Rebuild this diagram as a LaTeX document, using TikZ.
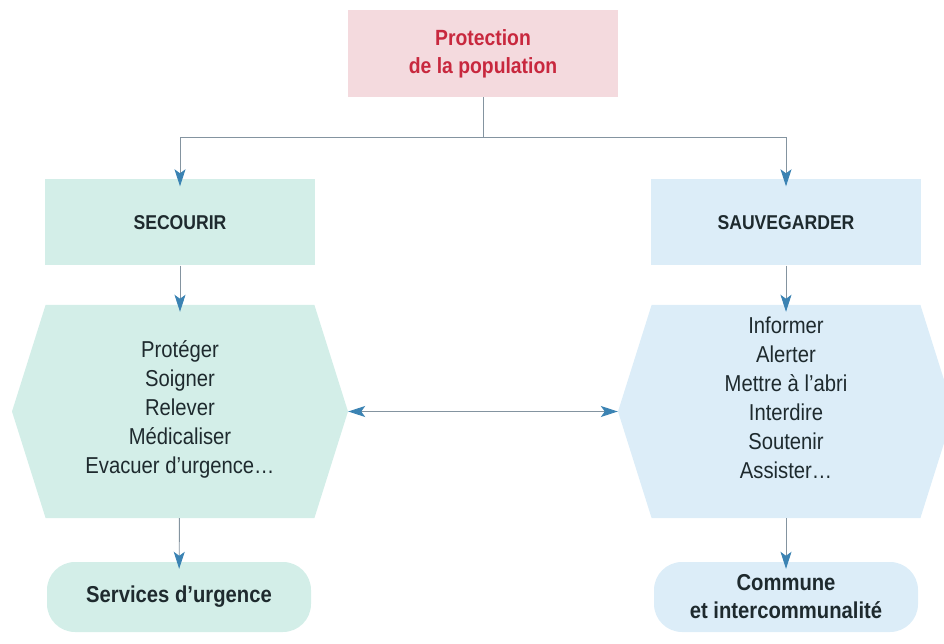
\documentclass[tikz,border=0pt]{standalone}
\usepackage{fontspec}
\setmainfont{Liberation Sans}[FakeStretch=0.88]
\usetikzlibrary{shapes.symbols,arrows.meta}
\definecolor{rosefond}{HTML}{F4DADE}
\definecolor{rougetexte}{HTML}{C8283E}
\definecolor{vertfond}{HTML}{D3EEE8}
\definecolor{bleufond}{HTML}{DCEDF8}
\definecolor{lignegris}{HTML}{8494A0}
\definecolor{flechebleu}{HTML}{3B83B3}
\definecolor{texte}{HTML}{1E2A2E}
\tikzset{
boite/.style={
	  inner sep=0pt, align=center, text=texte,
	  font=\bfseries\fontsize{20}{24}\selectfont,
	  minimum width=270pt, minimum height=86pt},
hexa/.style={
	  signal, signal to=west and east, signal pointer angle=145,
	  inner sep=0pt, minimum width=336pt, minimum height=213pt},
liste/.style={
	  inner sep=0pt, align=center, text=texte,
	  font=\fontsize{23}{29}\selectfont},
pilule/.style={
	  rectangle, rounded corners=28pt, inner sep=0pt, align=center, text=texte,
	  font=\bfseries\fontsize{23}{28}\selectfont,
	  minimum width=264pt, minimum height=70pt},
pointe/.tip={Stealth[length=17pt,width=11pt,inset=4pt,color=flechebleu]},
flow/.style={
	  draw=lignegris, line width=0.9pt, -pointe, shorten >=-7pt},
biflow/.style={
	  draw=lignegris, line width=0.9pt, pointe-pointe}
}

\begin{document}
\begin{tikzpicture}[x=1pt, y=1pt]
	\useasboundingbox (0,0) rectangle (944,643);
	\node[boite, fill=rosefond, text=rougetexte, font=\bfseries\fontsize{22}{28}\selectfont,
		minimum height=87pt] (protection) at (483,589.5) {Protection\\de la population};
	\node[boite, fill=vertfond] (secourir) at (180,420.5) {SECOURIR};
	\node[boite, fill=bleufond] (sauvegarder) at (786,420.5) {SAUVEGARDER};
	\node[hexa, fill=vertfond] (actsecours) at (180,231.5) {};
	\node[hexa, fill=bleufond] (actsauve) at (786,231.5) {};
	\node[liste] (listesecours) at ([yshift=2pt]actsecours.center)
		{Protéger\\Soigner\\Relever\\Médicaliser\\Evacuer d’urgence\dots};
	\node[liste] (listesauve) at ([yshift=14pt]actsauve.center)
		{Informer\\Alerter\\Mettre à l’abri\\Interdire\\Soutenir\\Assister\dots};
	\node[pilule, fill=vertfond] (services) at (179,46) {Services d’urgence};
	\node[pilule, fill=bleufond] (commune) at (786,46) {Commune\\et intercommunalité};
	% liaisons
	\draw[draw=lignegris, line width=0.9pt] (protection.south) -- ++(0,-40) coordinate (partage);
	\draw[flow] (partage) -| (secourir.north);
	\draw[flow] (partage) -| (sauvegarder.north);
	\draw[flow] (secourir) -- (actsecours);
	\draw[flow] (sauvegarder) -- (actsauve);
	\draw[flow] (actsecours) -- (services);
	\draw[flow] (actsauve) -- (commune);
	\draw[biflow] (actsecours.east) -- (actsauve.west);
\end{tikzpicture}
\end{document}
